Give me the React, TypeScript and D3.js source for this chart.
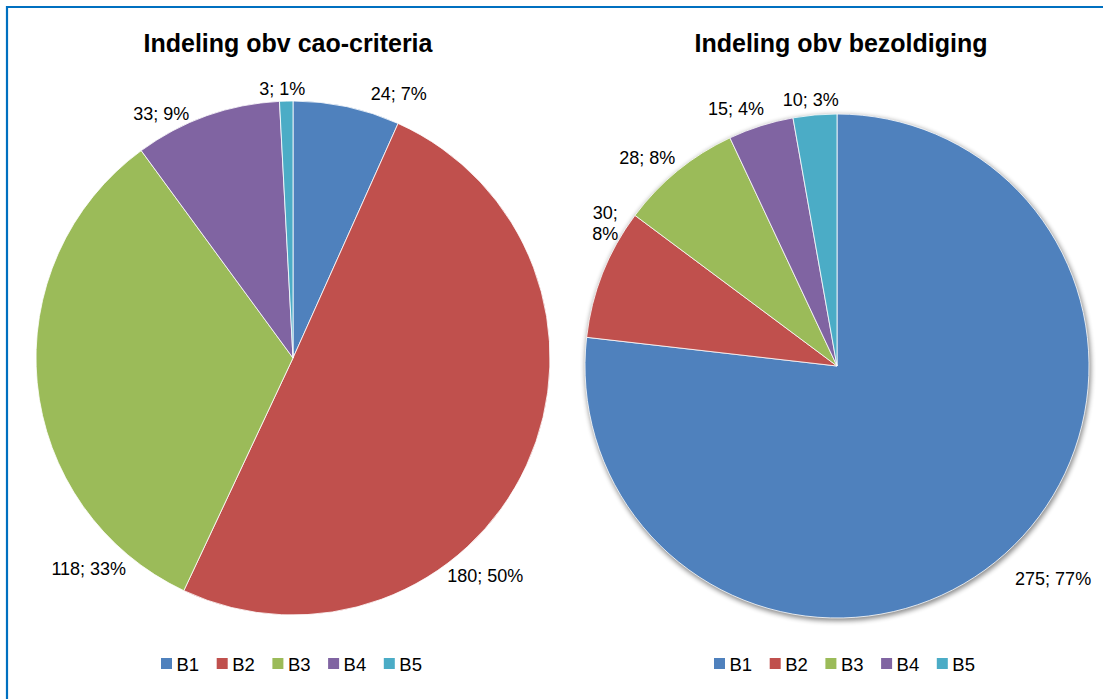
import React, { useEffect, useRef } from "react";
import * as d3 from "d3";

const categories = ["B1", "B2", "B3", "B4", "B5"];
const colors = ["#4F81BD", "#C0504D", "#9BBB59", "#8064A2", "#4BACC6"];

const caoValues = [24, 180, 118, 33, 3];
const caoLabels = ["24; 7%", "180; 50%", "118; 33%", "33; 9%", "3; 1%"];

const payValues = [275, 30, 28, 15, 10];
const payLabels = ["275; 77%", "30;\n8%", "28; 8%", "15; 4%", "10; 3%"];

// label placement: polar [angle in degrees clockwise from top, distance from center]
const caoLabelPos: [number, number][] = [
  [21.8, 285],
  [138.5, 290],
  [224.2, 293],
  [331.7, 278],
  [357.7, 270],
];
const payLabelPos: [number, number][] = [
  [134.5, 303],
  [301.6, 272],
  [317.7, 282],
  [338.6, 277],
  [354.4, 268],
];

const W = 1103;
const H = 699;
const fontFamily = "'Liberation Sans', Arial, sans-serif";

interface PieSpec {
  title: string;
  values: number[];
  labels: string[];
  labelPos: [number, number][];
  cx: number;
  cy: number;
  r: number;
  titleX: number;
  legendX: number;
  shadow: boolean;
}

const App: React.FC = () => {
  const svgRef = useRef<SVGSVGElement | null>(null);

  useEffect(() => {
    const svg = d3.select(svgRef.current);
    svg.selectAll("*").remove();

    svg
      .append("rect")
      .attr("width", W)
      .attr("height", H)
      .attr("fill", "white");

    // frame: only top and left edges are visible
    svg
      .append("path")
      .attr("d", `M7,${H} L7,7 L${W},7`)
      .attr("fill", "none")
      .attr("stroke", "#0070C0")
      .attr("stroke-width", 2.2);

    const defs = svg.append("defs");
    const filter = defs
      .append("filter")
      .attr("id", "pie-shadow")
      .attr("x", "-10%")
      .attr("y", "-10%")
      .attr("width", "120%")
      .attr("height", "120%");
    filter
      .append("feGaussianBlur")
      .attr("in", "SourceAlpha")
      .attr("stdDeviation", 2.5);

    const specs: PieSpec[] = [
      {
        title: "Indeling obv cao-criteria",
        values: caoValues,
        labels: caoLabels,
        labelPos: caoLabelPos,
        cx: 293,
        cy: 358,
        r: 257,
        titleX: 288,
        legendX: 161,
        shadow: false,
      },
      {
        title: "Indeling obv bezoldiging",
        values: payValues,
        labels: payLabels,
        labelPos: payLabelPos,
        cx: 837,
        cy: 366,
        r: 252,
        titleX: 841,
        legendX: 714,
        shadow: true,
      },
    ];

    const pie = d3
      .pie<number>()
      .sort(null)
      .value((d) => d);

    specs.forEach((s) => {
      const g = svg
        .append("g")
        .style("font-family", fontFamily);

      g.append("text")
        .attr("x", s.titleX)
        .attr("y", 52)
        .attr("text-anchor", "middle")
        .attr("font-size", 25)
        .attr("font-weight", "bold")
        .attr("fill", "#000")
        .text(s.title);

      const arc = d3.arc<d3.PieArcDatum<number>>().innerRadius(0).outerRadius(s.r);
      const pg = g.append("g").attr("transform", `translate(${s.cx},${s.cy})`);

      if (s.shadow) {
        pg.append("circle")
          .attr("cx", 1)
          .attr("cy", 2)
          .attr("r", s.r + 1)
          .attr("fill", "#000")
          .attr("opacity", 0.45)
          .attr("filter", "url(#pie-shadow)");
      }

      pg.selectAll(".slice")
        .data(pie(s.values))
        .enter()
        .append("path")
        .attr("class", "slice")
        .attr("d", arc)
        .attr("fill", (_d, i) => colors[i])
        .attr("stroke", "#fff")
        .attr("stroke-width", 0.8);

      // data labels
      s.labels.forEach((lab, i) => {
        const [ang, dist] = s.labelPos[i];
        const a = (ang * Math.PI) / 180;
        const x = Math.sin(a) * dist;
        const y = -Math.cos(a) * dist;
        const lines = lab.split("\n");
        const t = pg
          .append("text")
          .attr("text-anchor", "middle")
          .attr("font-size", 18)
          .attr("fill", "#000");
        lines.forEach((ln, k) => {
          t.append("tspan")
            .attr("x", x)
            .attr("y", y + 6.5 + (k - (lines.length - 1) / 2) * 21)
            .text(ln);
        });
      });

      // legend
      const legendX = d3
        .scaleBand<string>()
        .domain(categories)
        .range([s.legendX, s.legendX + 55.7 * categories.length]);

      const lg = g
        .selectAll(".legend-item")
        .data(categories)
        .enter()
        .append("g")
        .attr("class", "legend-item")
        .attr("transform", (d) => `translate(${legendX(d)},0)`);

      lg.append("rect")
        .attr("x", 0)
        .attr("y", 658)
        .attr("width", 11)
        .attr("height", 11)
        .attr("fill", (_d, i) => colors[i]);

      lg.append("text")
        .attr("x", 15.5)
        .attr("y", 671)
        .attr("font-size", 18.5)
        .attr("fill", "#000")
        .text((d) => d);
    });
  }, []);

  return (
    <svg
      ref={svgRef}
      width={W}
      height={H}
      style={{ position: "absolute", left: 0, top: 0, display: "block" }}
    ></svg>
  );
};

export default App;
